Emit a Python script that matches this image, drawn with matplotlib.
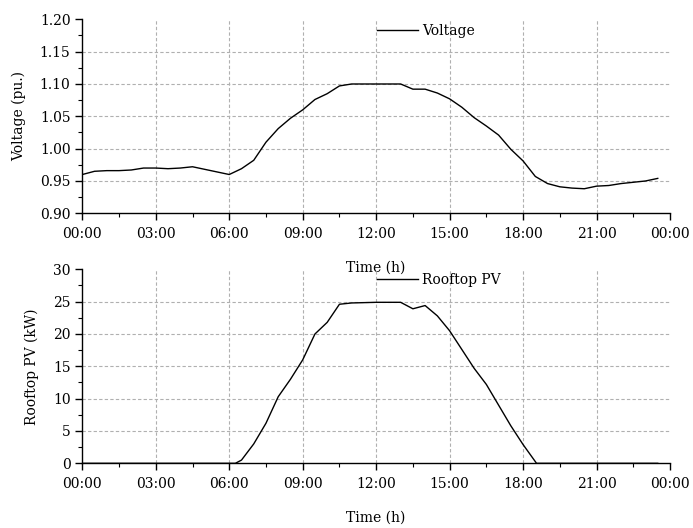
import matplotlib
matplotlib.use("Agg")
import matplotlib.pyplot as plt
import numpy as np

### data
hours = [0.0, 0.5, 1.0, 1.5, 2.0, 2.5, 3.0, 3.5, 4.0, 4.5, 5.0, 5.5,
         6.0, 6.5, 7.0, 7.5, 8.0, 8.5, 9.0, 9.5, 10.0, 10.5, 11.0, 11.5,
         12.0, 12.5, 13.0, 13.5, 14.0, 14.5, 15.0, 15.5, 16.0, 16.5, 17.0, 17.5,
         18.0, 18.5, 19.0, 19.5, 20.0, 20.5, 21.0, 21.5, 22.0, 22.5, 23.0, 23.5]
voltage = [0.960, 0.965, 0.966, 0.966, 0.967, 0.970, 0.970, 0.969, 0.970, 0.972, 0.968, 0.964,
           0.960, 0.969, 0.982, 1.010, 1.031, 1.047, 1.060, 1.076, 1.085, 1.097, 1.100, 1.100,
           1.100, 1.100, 1.100, 1.092, 1.092, 1.086, 1.077, 1.064, 1.048, 1.035, 1.021, 0.999,
           0.981, 0.957, 0.946, 0.941, 0.939, 0.938, 0.942, 0.943, 0.946, 0.948, 0.950, 0.954]

pv_hours = [0.0, 6.25, 6.5, 7.0, 7.5, 8.0, 8.5, 9.0, 9.5, 10.0, 10.5, 11.0,
            12.0, 13.0, 13.5, 14.0, 14.5, 15.0, 15.5, 16.0, 16.5, 17.0, 17.5, 18.0,
            18.55, 23.5]
pv_kw = [0.0, 0.0, 0.5, 3.0, 6.2, 10.3, 13.0, 16.0, 20.0, 21.8, 24.6, 24.8,
         24.9, 24.9, 23.9, 24.4, 22.8, 20.5, 17.6, 14.7, 12.2, 9.0, 5.8, 2.9,
         0.0, 0.0]

xticks = [0, 3, 6, 9, 12, 15, 18, 21, 24]
xticklabels = ["00:00", "03:00", "06:00", "09:00", "12:00", "15:00", "18:00", "21:00", "00:00"]

plt.rcParams.update({'font.family': 'DejaVu Serif', 'font.size': 10,
                     'axes.linewidth': 1.0,
                     'xtick.major.size': 5, 'xtick.minor.size': 3,
                     'ytick.major.size': 5, 'ytick.minor.size': 3,
                     'xtick.major.width': 1.0, 'ytick.major.width': 1.0,
                     'xtick.minor.width': 0.8, 'ytick.minor.width': 0.8,
                     'xtick.major.pad': 5})

fig = plt.figure(figsize=(6.93, 5.28), dpi=100)
ax1 = fig.add_axes([0.1188, 0.596, 0.848, 0.3674])
ax2 = fig.add_axes([0.1188, 0.1225, 0.848, 0.3674])
ax2.set_facecolor('none')  # so the upper "Time (h)" is not hidden


def style(ax, yticks, yminor, ylabel):
    ax.set_xlim(0, 24)
    ax.set_ylim(yticks[0], yticks[-1])
    ax.set_xticks(xticks)
    ax.set_xticklabels(xticklabels)
    ax.set_xticks(np.arange(1.5, 24, 3), minor=True)
    ax.set_yticks(yticks)
    ax.set_yticks(yminor, minor=True)
    ax.spines['top'].set_visible(False)
    ax.spines['right'].set_visible(False)
    # grid only at the inner ticks
    for xv in xticks[1:-1]:
        ax.axvline(xv, color='#b0b0b0', ls=(0, (3, 2)), lw=0.8, zorder=0)
    for yv in yticks[1:-1]:
        ax.axhline(yv, color='#b0b0b0', ls=(0, (3, 2)), lw=0.8, zorder=0)
    ax.set_xlabel("Time (h)", labelpad=14)
    ax.set_ylabel(ylabel, labelpad=10)


#######voltage
ax1.plot(hours, voltage, color='k', lw=1.0, label='Voltage')
vt = [0.90, 0.95, 1.00, 1.05, 1.10, 1.15, 1.20]
style(ax1, vt, np.arange(0.925, 1.2, 0.05), "Voltage (pu.)")
ax1.set_yticklabels(["%.2f" % v for v in vt])
ax1.legend(loc='upper left', bbox_to_anchor=(0.502, 0.975), frameon=False,
           borderaxespad=0, borderpad=0, handlelength=2.9, handletextpad=0.3)

#######rooftop PV
ax2.plot(pv_hours, pv_kw, color='k', lw=1.0, label='Rooftop PV')
style(ax2, [0, 5, 10, 15, 20, 25, 30], np.arange(2.5, 30, 5), "Rooftop PV (kW)")
ax2.legend(loc='upper left', bbox_to_anchor=(0.502, 0.98), frameon=False,
           borderaxespad=0, borderpad=0, handlelength=2.9, handletextpad=0.3)

fig.savefig("out.png", dpi=100)
